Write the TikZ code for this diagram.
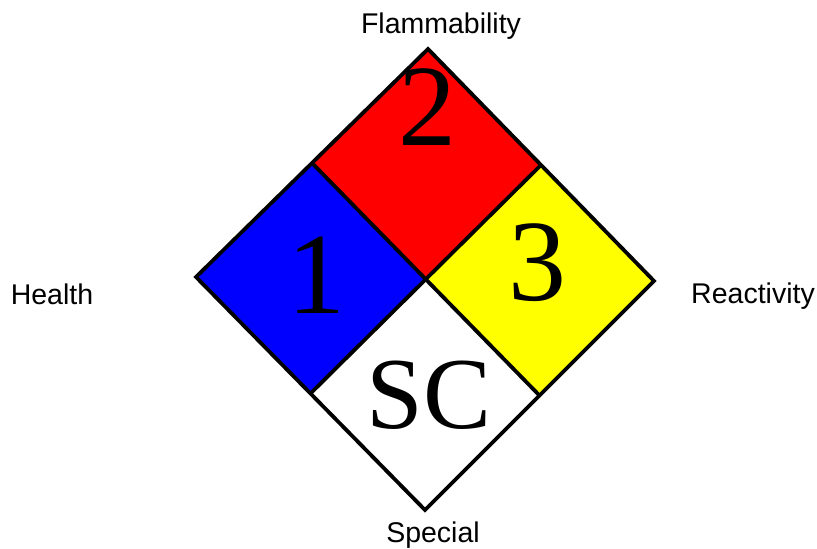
\documentclass[tikz,border=0pt]{standalone}
\usepackage{fontspec}
\setmainfont{Liberation Serif}
\newfontfamily\labelfont{Liberation Sans}
\definecolor{nfpablue}{RGB}{0,0,255}
\definecolor{nfpared}{RGB}{255,0,0}
\definecolor{nfpayellow}{RGB}{255,255,0}
\tikzset{
  quad/.style={draw=black,line width=3.8pt,line join=miter},
  lab/.style={font=\labelfont\fontsize{28.5}{28.5}\selectfont,anchor=base,inner sep=0pt},
  num/.style={font=\fontsize{116}{116}\selectfont,anchor=base,inner sep=0pt},
}
\begin{document}
\begin{tikzpicture}[x=1pt,y=-1pt]
\useasboundingbox (0,0) rectangle (817,549);
\coordinate (T) at (428,49);
\coordinate (L) at (196,277);
\coordinate (R) at (654,281);
\coordinate (B) at (425,510);
\coordinate (C) at (425,279);
\coordinate (TL) at (312,163);
\coordinate (TR) at (541,165);
\coordinate (BL) at (310.5,393.5);
\coordinate (BR) at (539.5,395.5);
\fill[nfpablue] (L) -- (TL) -- (C) -- (BL) -- cycle;
\fill[nfpared] (TL) -- (T) -- (TR) -- (C) -- cycle;
\fill[nfpayellow] (C) -- (TR) -- (R) -- (BR) -- cycle;
\fill[white] (BL) -- (C) -- (BR) -- (B) -- cycle;
\draw[quad] (TL) -- (BR);
\draw[quad] (TR) -- (BL);
\draw[quad] (T) -- (R) -- (B) -- (L) -- cycle;
\node[num] (n1) at (316,313) {1};
\node[num] (n2) at (427,145) {2};
\node[num] (n3) at (537,300) {3};
\node[num,font=\fontsize{102}{102}\selectfont] (sc) at (429,428) {SC};
\node[lab] (flam) at (441,33) {Flammability};
\node[lab] (health) at (52,304) {Health};
\node[lab] (react) at (753,303) {Reactivity};
\node[lab] (spec) at (433,542) {Special};
\end{tikzpicture}
\end{document}
